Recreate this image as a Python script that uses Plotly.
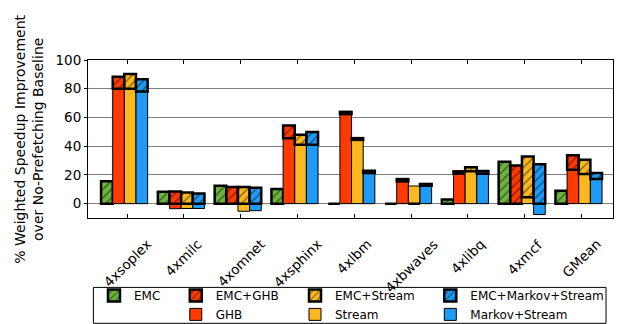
import plotly.graph_objects as go

# Benchmarks on the x axis
categories = ["4xsoplex", "4xmilc", "4xomnet", "4xsphinx", "4xlbm",
              "4xbwaves", "4xlibq", "4xmcf", "GMean"]

# % weighted speedup improvement over the no-prefetching baseline
emc = [15.5, 8.2, 12.5, 10.2, 0.0, 0.0, 2.8, 29.2, 9.0]
ghb = [80.0, -3.5, 0.0, 45.6, 62.3, 15.5, 20.8, 0.0, 23.6]
emc_ghb = [88.4, 8.5, 11.6, 54.4, 63.9, 17.1, 22.5, 26.6, 33.6]
stream = [80.0, -3.4, -5.3, 41.0, 44.4, 12.3, 22.5, 4.5, 20.6]
emc_stream = [90.3, 7.7, 11.6, 47.9, 45.6, 0.0, 25.3, 32.9, 30.6]
markov_stream = [78.0, -3.4, -4.9, 41.0, 21.3, 12.5, 20.8, -7.6, 17.1]
emc_markov_stream = [86.6, 7.0, 11.1, 49.8, 22.9, 13.7, 22.7, 27.5, 21.4]

y_ticks = [0, 20, 40, 60, 80, 100]

GREEN = "#6cb33e"
RED = "#ff3a00"
YELLOW = "#fbb820"
BLUE = "#1f9bf5"
FONT = "DejaVu Sans"

SLOT = 0.205      # width of one bar slot (category units)
START = -0.46     # left edge of the first slot relative to the tick

xpos = list(range(len(categories)))


def hatched(color):
    return dict(color=color,
                pattern=dict(shape="/", fgcolor="black", bgcolor=color,
                             size=6, solidity=0.22),
                line=dict(color="black", width=2.5))


fig = go.Figure()

# EMC on its own
fig.add_trace(go.Bar(x=xpos, y=emc, offset=START, width=SLOT,
                     marker=hatched(GREEN), name="EMC", legend="legend"))

groups = [
    (ghb, emc_ghb, RED, "GHB", "EMC+GHB", "legend2"),
    (stream, emc_stream, YELLOW, "Stream", "EMC+Stream", "legend3"),
    (markov_stream, emc_markov_stream, BLUE, "Markov+Stream",
     "EMC+Markov+Stream", "legend4"),
]

for k, (solo, combo, color, solo_name, combo_name, leg) in enumerate(groups, start=1):
    off = START + SLOT * k
    # prefetcher alone: solid bar from zero
    fig.add_trace(go.Bar(x=xpos, y=solo, offset=off, width=SLOT,
                         marker=dict(color=color, line=dict(color="black", width=1)),
                         name=solo_name, legend=leg, legendrank=2))
    # prefetcher + EMC: hatched part above the solid bar
    base = [max(0.0, min(s, c)) for s, c in zip(solo, combo)]
    fig.add_trace(go.Bar(x=xpos, y=[c - b for c, b in zip(combo, base)],
                         base=base, offset=off, width=SLOT,
                         marker=hatched(color),
                         name=combo_name, legend=leg, legendrank=1))

# rotated benchmark labels centred under each tick
for i, name in enumerate(categories):
    fig.add_annotation(x=xpos[i], xref="x", y=-0.095, yref="paper",
                       text=name, textangle=-45, showarrow=False,
                       xanchor="center", yanchor="top",
                       font=dict(family=FONT, size=13.5, color="black"))

fig.add_annotation(x=-0.113, xref="paper", y=0.5, yref="paper",
                   text="% Weighted Speedup Improvement<br>over No-Prefetching Baseline",
                   textangle=-90, showarrow=False, xanchor="center", yanchor="middle",
                   font=dict(family=FONT, size=14, color="black"))

legend_common = dict(orientation="v", xanchor="left", yanchor="top",
                     bgcolor="rgba(0,0,0,0)", borderwidth=0, tracegroupgap=0,
                     font=dict(family=FONT, size=12, color="black"), itemwidth=30)
legend_y = -0.398
fig.update_layout(
    legend=dict(x=0.0114, y=legend_y, **legend_common),
    legend2=dict(x=0.1672, y=legend_y, **legend_common),
    legend3=dict(x=0.3943, y=legend_y, **legend_common),
    legend4=dict(x=0.652, y=legend_y, **legend_common),
)

# frame around the legend columns
fig.add_shape(type="rect", xref="paper", yref="paper",
              x0=0.0103, x1=0.9867, y0=-0.6665, y1=-0.4392,
              line=dict(color="black", width=1), fillcolor="rgba(0,0,0,0)")

fig.update_layout(
    width=622, height=324,
    margin=dict(l=88, r=9, t=60, b=106, autoexpand=False),
    barmode="overlay",
    paper_bgcolor="white", plot_bgcolor="white",
    font=dict(family=FONT, size=13.5, color="black"),
    showlegend=True,
    xaxis=dict(range=[-0.69, 8.553], tickvals=xpos, showticklabels=False,
               ticks="inside", ticklen=4, tickcolor="black",
               showline=True, linecolor="black", linewidth=1, mirror="ticks",
               showgrid=False, zeroline=False),
    yaxis=dict(range=[-10, 100], tickvals=y_ticks, ticks="outside", ticklen=3,
               tickcolor="black", showline=True, linecolor="black", linewidth=1,
               mirror=True, showgrid=True, gridcolor="#808080", gridwidth=1.2,
               zeroline=False, tickfont=dict(family=FONT, size=13.5, color="black")),
)

fig.write_html("out.html")
